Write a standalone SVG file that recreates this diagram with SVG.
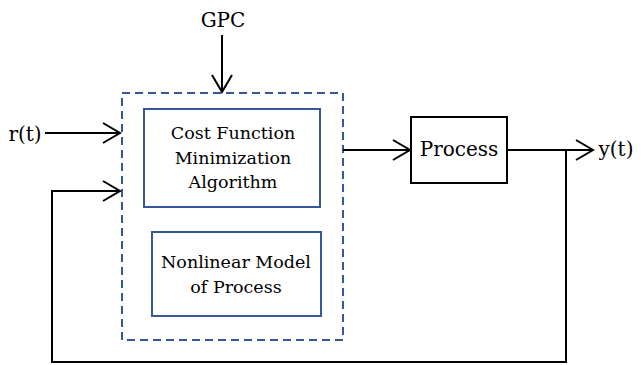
<svg xmlns="http://www.w3.org/2000/svg" width="641" height="365" viewBox="0 0 641 365">
<style>
.t{font-family:"DejaVu Serif","Liberation Serif",serif;fill:#000;text-anchor:middle}
.lbl{font-size:20px}
.in{font-size:17.5px}
.blue{fill:#fff;stroke:#35589a;stroke-width:2}
.dash{fill:none;stroke:#35589a;stroke-width:2;stroke-dasharray:8 5}
.con{fill:none;stroke:#000;stroke-width:2}
</style>
<defs>
<marker id="arr" viewBox="-18 -12 20 24" markerWidth="20" markerHeight="24" refX="0" refY="0" orient="auto" markerUnits="userSpaceOnUse">
<path d="M-17,-10 L0,0 L-17,10" fill="none" stroke="#000" stroke-width="2"/>
</marker>
</defs>
<rect width="641" height="365" fill="#fff"/>
<g id="gpc-container">
<rect x="122" y="93" width="221" height="247" class="dash"/>
</g>
<g id="cost-function">
<rect x="144" y="109" width="176" height="98" class="blue"/>
<text class="t in" x="233" y="139">Cost Function</text>
<text class="t in" x="233" y="164">Minimization</text>
<text class="t in" x="233" y="188">Algorithm</text>
</g>
<g id="nonlinear-model">
<rect x="152" y="232" width="169" height="84" class="blue"/>
<text class="t in" x="236" y="268">Nonlinear Model</text>
<text class="t in" x="236" y="293">of Process</text>
</g>
<g id="process">
<rect x="411" y="117" width="96" height="66" fill="#fff" stroke="#000" stroke-width="2"/>
<text class="t lbl" x="459" y="156">Process</text>
</g>
<g id="labels">
<text class="t lbl" x="223" y="27">GPC</text>
<text class="t lbl" x="25" y="141">r(t)</text>
<text class="t lbl" x="616" y="156">y(t)</text>
</g>
<g id="connectors">
<line x1="222" y1="35" x2="222" y2="92" class="con" marker-end="url(#arr)"/>
<line x1="45" y1="133" x2="120" y2="133" class="con" marker-end="url(#arr)"/>
<line x1="343" y1="150" x2="410" y2="150" class="con" marker-end="url(#arr)"/>
<line x1="507" y1="150" x2="593" y2="150" class="con" marker-end="url(#arr)"/>
<polyline points="566,150 566,362 52,362 52,191 120,191" class="con" marker-end="url(#arr)"/>
</g>
</svg>
